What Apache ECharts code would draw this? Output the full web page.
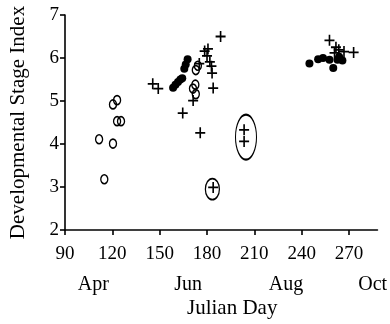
<!DOCTYPE html>
<html>
<head>
<meta charset="utf-8">
<script src="https://cdn.jsdelivr.net/npm/echarts@6/dist/echarts.min.js"></script>
<style>
  html, body { margin: 0; padding: 0; background: #fff; }
  #chart { width: 390px; height: 324px; }
</style>
</head>
<body>
<div id="chart"></div>
<script>
// Julian day / stage index pairs
const filledPoints = [
  [158.5, 5.31], [160.0, 5.38], [161.6, 5.44], [163.1, 5.50], [164.3, 5.53],
  [165.6, 5.75], [166.5, 5.85], [167.7, 5.97],
  [244.9, 5.87], [250.4, 5.97], [253.5, 6.00], [257.6, 5.96], [260.0, 5.77],
  [262.7, 5.96], [265.8, 5.94], [263.7, 6.03]
]
const openPoints = [
  [120.4, 4.92], [123.0, 5.02], [123.0, 4.53], [125.5, 4.53], [111.6, 4.11],
  [120.4, 4.01], [114.9, 3.18],
  [172.6, 5.38], [171.1, 5.29], [172.9, 5.16], [172.9, 5.72], [174.2, 5.82]
]
const plusPoints = [
  [145.6, 5.40], [149.1, 5.29], [188.6, 6.50], [178.5, 6.16], [180.6, 6.21],
  [180.0, 6.05], [181.8, 5.91], [182.8, 5.81], [183.2, 5.65], [183.9, 5.30],
  [175.1, 5.87], [171.2, 5.01], [164.6, 4.72], [175.7, 4.26],
  [203.5, 4.33], [203.5, 4.06], [183.9, 2.99],
  [257.6, 6.41], [261.7, 6.25], [260.8, 6.12], [263.5, 6.19], [266.8, 6.15],
  [272.9, 6.13]
]
const circledGroups = [
  { center: [204.7, 4.16], size: [21, 45] },
  { center: [183.4, 2.95], size: [14, 21] }
]
const dayTicks = [90, 120, 150, 180, 210, 240, 270]
const monthValues = [108, 168, 230, 285]
const monthLabels = ["Apr", "Jun", "Aug", "Oct"]

const chart = echarts.init(document.getElementById("chart"), null, { renderer: "canvas" })
const font = "Liberation Serif"
const ink = "#000"

chart.setOption({
  animation: false,
  textStyle: { fontFamily: font, color: ink },
  grid: { left: 55, right: 12, top: 15, bottom: 94 },
  xAxis: [
    {
      type: "value",
      min: 90,
      max: 288,
      position: "bottom",
      name: "Julian Day",
      nameLocation: "middle",
      nameGap: 68,
      nameTextStyle: { fontFamily: font, fontSize: 21, color: ink, padding: [0, 0, 0, 22] },
      axisLine: { lineStyle: { color: ink, width: 1.6 } },
      axisTick: { customValues: dayTicks, length: 5, lineStyle: { color: ink, width: 1.6 } },
      axisLabel: { customValues: dayTicks, margin: 15, fontFamily: font, fontSize: 19, color: ink },
      splitLine: { show: false }
    },
    {
      type: "value",
      min: 90,
      max: 288,
      position: "bottom",
      axisLine: { show: false },
      axisTick: { show: false },
      axisLabel: {
        customValues: monthValues,
        margin: 45,
        fontFamily: font,
        fontSize: 20,
        color: ink,
        formatter: (v) => monthLabels[monthValues.indexOf(v)]
      },
      splitLine: { show: false }
    }
  ],
  yAxis: {
    type: "value",
    min: 2,
    max: 7,
    interval: 1,
    name: "Developmental Stage Index",
    nameLocation: "middle",
    nameGap: 36,
    nameTextStyle: { fontFamily: font, fontSize: 21, color: ink },
    axisLine: { show: true, lineStyle: { color: ink, width: 1.6 } },
    axisTick: { show: true, length: 5, lineStyle: { color: ink, width: 1.6 } },
    axisLabel: { margin: 6, fontFamily: font, fontSize: 19, color: ink },
    splitLine: { show: false }
  },
  series: [
    {
      name: "filled",
      type: "scatter",
      data: filledPoints,
      symbol: "circle",
      symbolSize: 8,
      itemStyle: { color: ink, opacity: 1 }
    },
    {
      name: "open",
      type: "scatter",
      data: openPoints,
      symbol: "circle",
      symbolSize: [7, 9],
      itemStyle: { color: "rgba(0,0,0,0)", borderColor: ink, borderWidth: 1.5, opacity: 1 }
    },
    {
      name: "plus",
      type: "scatter",
      data: plusPoints,
      symbol: "path://M0,5L10,5M5,0L5,10",
      symbolSize: [10, 11],
      itemStyle: { color: "none", borderColor: ink, borderWidth: 1.7, opacity: 1 }
    },
    {
      name: "circled",
      type: "scatter",
      data: circledGroups.map((g) => ({ value: g.center, symbolSize: g.size })),
      symbol: "circle",
      itemStyle: { color: "rgba(0,0,0,0)", borderColor: ink, borderWidth: 1.5, opacity: 1 }
    }
  ]
})
</script>
</body>
</html>
